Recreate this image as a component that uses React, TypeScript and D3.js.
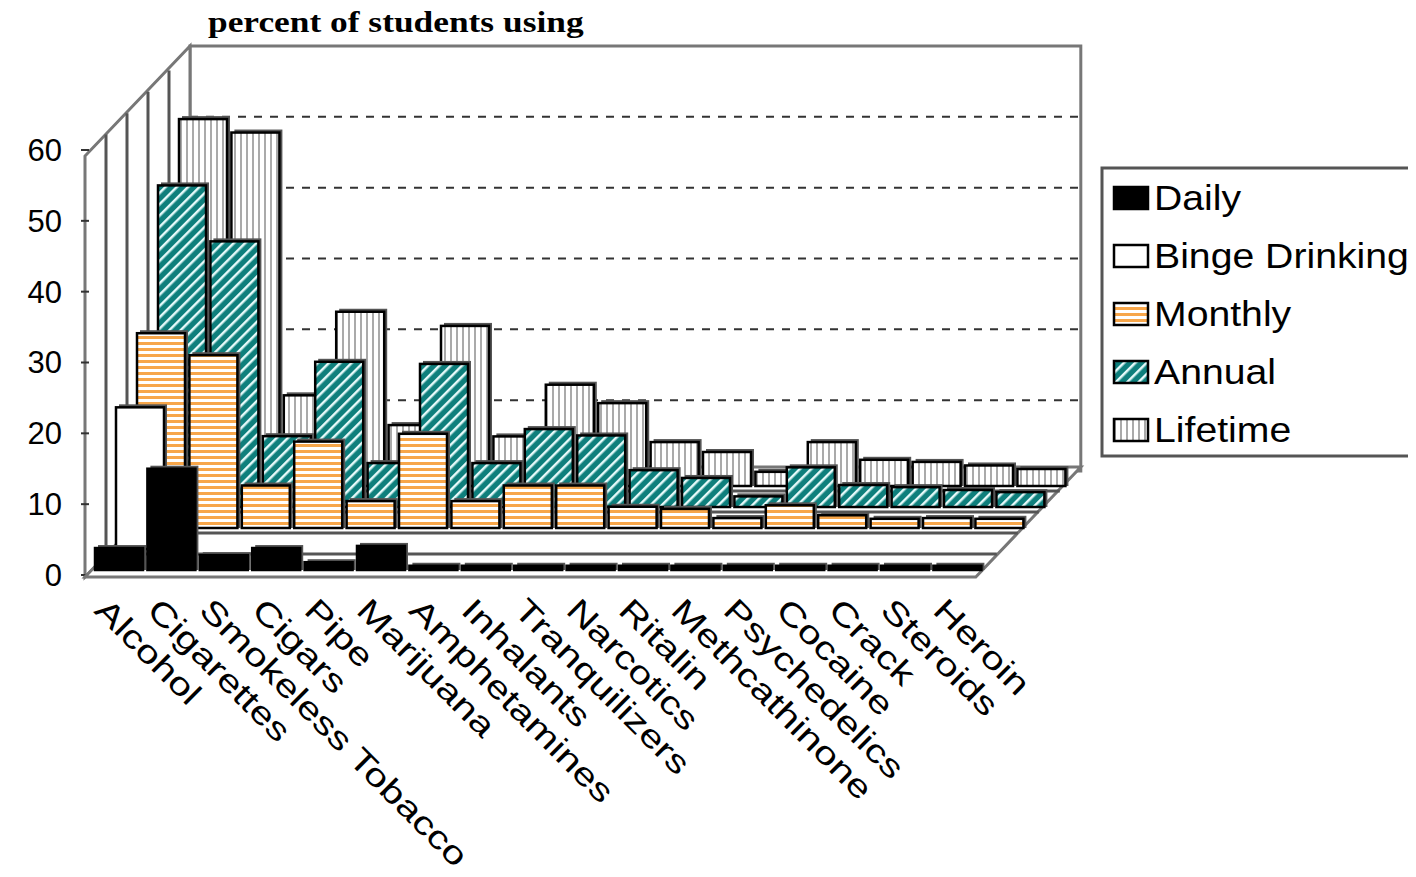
import * as d3 from "d3"

const categories = [
  "Alcohol", "Cigarettes", "Smokeless Tobacco", "Cigars", "Pipe", "Marijuana",
  "Amphetamines", "Inhalants", "Tranquilizers", "Narcotics", "Ritalin",
  "Methcathinone", "Psychedelics", "Cocaine", "Crack", "Steroids", "Heroin",
]
const daily = [3.1, 14.3, 2.1, 3.1, 1.1, 3.4, 0.6, 0.6, 0.6, 0.6, 0.6, 0.6, 0.6, 0.6, 0.6, 0.6, 0.6]
const binge = [20, null, null, null, null, null, null, null, null, null, null, null, null, null, null, null, null]
const monthly = [27.5, 24.4, 6, 12.2, 3.8, 13.3, 3.8, 6, 6, 3, 2.7, 1.4, 3.2, 1.8, 1.3, 1.4, 1.3]
const annual = [45.4, 37.5, 10, 20.5, 6.2, 20.2, 6.2, 11, 10.1, 5.2, 4.1, 1.5, 5.6, 3.1, 2.8, 2.4, 2.1]
const lifetime = [51.8, 49.9, 12.8, 24.6, 8.6, 22.6, 7, 14.3, 11.7, 6.2, 4.8, 2, 6.2, 3.7, 3.4, 2.9, 2.4]
const seriesNames = ["Daily", "Binge Drinking", "Monthly", "Annual", "Lifetime"]
const seriesValues = [daily, binge, monthly, annual, lifetime]
const fills = ["#000", "#fff", "url(#pMonthly)", "url(#pAnnual)", "url(#pLifetime)"]
const ticks = [0, 10, 20, 30, 40, 50, 60]

const X0 = 85
const CW = 52.4
const BW = 48
const DEPTH = 21
const BASE = 570

const y = d3.scaleLinear().domain([0, 60]).range([0, 425])
const xCat = d3.scaleLinear().domain([0, categories.length]).range([X0, X0 + CW * categories.length])

export default function App() {
  const nR = 5
  const backX0 = X0 + DEPTH * nR
  const backX1 = xCat(categories.length) + DEPTH * nR
  const backBase = BASE - DEPTH * nR
  const wallBase = backBase + 6
  const frontX1 = xCat(categories.length)
  return (
    <svg width={1416} height={877} style={{ display: "block", margin: -8 }} fontFamily="Arial, Liberation Sans, sans-serif">
      <defs>
        <pattern id="pMonthly" width={6} height={6} patternUnits="userSpaceOnUse">
          <rect width={6} height={6} fill="#fff" />
          <rect width={6} height={3} fill="#f7a64a" />
        </pattern>
        <pattern id="pAnnual" width={8} height={8} patternUnits="userSpaceOnUse" patternTransform="rotate(-45)">
          <rect width={8} height={8} fill="#0e7f7c" />
          <rect width={8} height={2.5} fill="#e6fafa" />
        </pattern>
        <pattern id="pLifetime" width={6} height={6} patternUnits="userSpaceOnUse">
          <rect width={6} height={6} fill="#fff" />
          <rect width={2} height={6} fill="#aaa" />
        </pattern>
      </defs>
      {/* back wall */}
      <rect x={backX0} y={wallBase - y(60)} width={backX1 - backX0} height={y(60)} fill="#fff" stroke="#777" strokeWidth={3} />
      {[10, 20, 30, 40, 50].map((t) => (
        <line key={t} x1={backX0} x2={backX1} y1={wallBase - y(t)} y2={wallBase - y(t)} stroke="#333" strokeWidth={2} strokeDasharray="8 8" />
      ))}
      {/* left wall */}
      <polygon points={`${X0},${BASE + 7} ${X0},${BASE + 7 - y(60) + 4} ${backX0},${wallBase - y(60)} ${backX0},${wallBase}`} fill="#fff" stroke="#777" strokeWidth={3} />
      {d3.range(1, nR).map((r) => (
        <line key={r} x1={X0 + r * DEPTH} x2={X0 + r * DEPTH} y1={BASE - r * DEPTH + 5} y2={BASE + 7 - y(60) + 4 - r * (DEPTH + 0.4)} stroke="#555" strokeWidth={3} />
      ))}
      {ticks.map((t) => (
        <line key={t} x1={X0 - 4} x2={X0 + 4} y1={BASE + 5 - y(t)} y2={BASE + 5 - y(t)} stroke="#333" strokeWidth={2} />
      ))}
      {/* floor */}
      <polygon points={`${X0},${BASE + 7} ${frontX1},${BASE + 7} ${backX1},${backBase + 2} ${backX0},${backBase + 2}`} fill="#fff" stroke="#777" strokeWidth={3} />
      {d3.range(1, nR).map((r) => (
        <line key={r} x1={X0 + r * DEPTH} x2={frontX1 + r * DEPTH} y1={BASE + 5 - r * DEPTH} y2={BASE + 5 - r * DEPTH} stroke="#555" strokeWidth={3} />
      ))}
      {/* bars, back to front */}
      {d3.range(nR - 1, -1, -1).map((r) =>
        seriesValues[r].map((v, i) => {
          if (v == null) return null
          const x = xCat(i) + 10 + r * DEPTH
          const b = BASE - r * DEPTH
          const h = Math.max(y(v), 3)
          return (
            <g key={`${r}-${i}`}>
              <rect x={x + 3} y={b - h - 3} width={BW} height={h + 3} fill="#555" />
              <rect x={x} y={b - h} width={BW} height={h} fill={fills[r]} stroke="#000" strokeWidth={2.5} />
            </g>
          )
        }),
      )}
      {/* axis labels */}
      {ticks.map((t) => (
        <text key={t} x={62} y={BASE + 5 - y(t)} dy="0.35em" textAnchor="end" fontSize={31}>{t}</text>
      ))}
      <text transform="translate(208,32) scale(1.22,1)" fontFamily="Liberation Serif, serif" fontWeight="bold" fontSize={29}>percent of students using</text>
      {categories.map((c, i) => (
        <text key={c} transform={`translate(${xCat(i) + 16},${604}) rotate(45) scale(1.28,1)`} fontSize={32} dy="0.35em">{c}</text>
      ))}
      {/* legend */}
      <rect x={1102} y={168} width={320} height={288} fill="#fff" stroke="#555" strokeWidth={3} />
      {seriesNames.map((s, i) => (
        <g key={s} transform={`translate(1114,${197 + i * 58})`}>
          <rect x={0} y={-10} width={34} height={22} fill={fills[i]} stroke="#000" strokeWidth={2.5} />
          <text transform="translate(40,1) scale(1.12,1)" dy="0.35em" fontSize={35}>{s}</text>
        </g>
      ))}
    </svg>
  )
}
